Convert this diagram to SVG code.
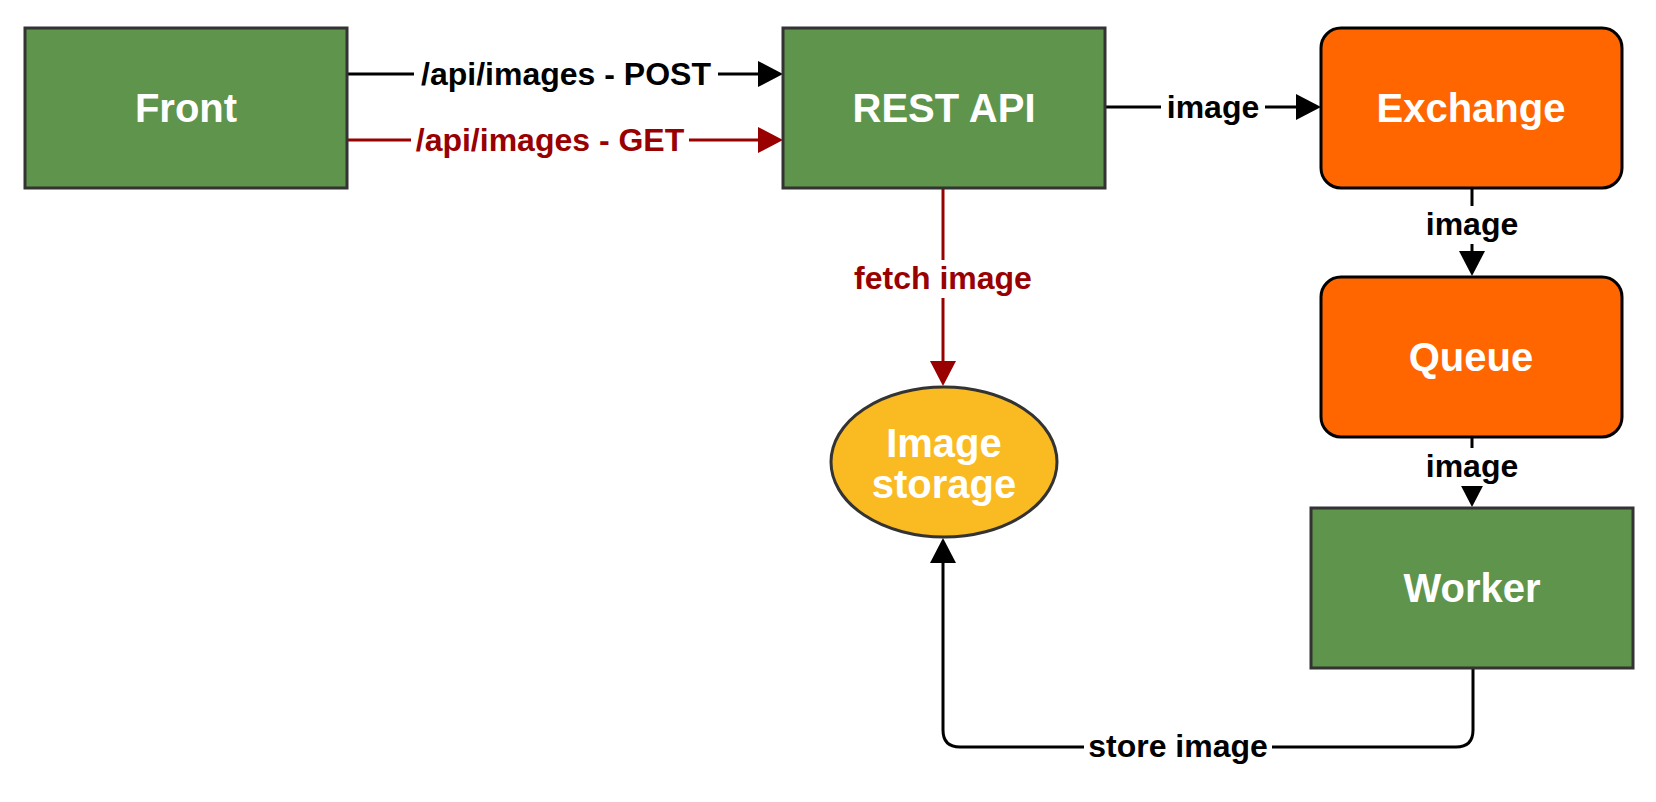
<svg xmlns="http://www.w3.org/2000/svg" width="1656" height="802" viewBox="0 0 1656 802">
<style>
.box{fill:#5E944B;stroke:#333333;stroke-width:3}
.rbox{fill:#FF6600;stroke:#000000;stroke-width:3}
.ell{fill:#F9BA22;stroke:#333333;stroke-width:3}
.nt{font-family:"Liberation Sans",Arial,sans-serif;font-weight:bold;font-size:40px;fill:#ffffff;text-anchor:middle}
.lt{font-family:"Liberation Sans",Arial,sans-serif;font-weight:bold;font-size:32px;text-anchor:middle}
.blk{fill:#000000}
.red{fill:#990000}
.ln{fill:none;stroke:#000000;stroke-width:3}
.lnr{fill:none;stroke:#990000;stroke-width:3}
.bg{fill:#ffffff}
</style>
<defs>
<marker id="ab" viewBox="0 0 25 26" refX="12" refY="13" markerWidth="25" markerHeight="26" markerUnits="userSpaceOnUse" orient="auto">
<path d="M0,0 L25,13 L0,26 Z" fill="#000000"/>
</marker>
<marker id="ar" viewBox="0 0 25 26" refX="12" refY="13" markerWidth="25" markerHeight="26" markerUnits="userSpaceOnUse" orient="auto">
<path d="M0,0 L25,13 L0,26 Z" fill="#990000"/>
</marker>
</defs>
<rect width="1656" height="802" fill="#ffffff"/>
<g id="connectors">
<path class="ln" d="M347,74 L770,74" marker-end="url(#ab)"/>
<path class="lnr" d="M347,140 L770,140" marker-end="url(#ar)"/>
<path class="ln" d="M1105,107 L1308,107" marker-end="url(#ab)"/>
<path class="ln" d="M1472,188 L1472,263" marker-end="url(#ab)"/>
<path class="ln" d="M1472,437 L1472,494" marker-end="url(#ab)"/>
<path class="lnr" d="M943,189 L943,373" marker-end="url(#ar)"/>
<path class="ln" d="M1473,668 L1473,730 Q1473,747 1456,747 L960,747 Q943,747 943,730 L943,551" marker-end="url(#ab)"/>
<rect class="bg" x="414" y="56" width="304" height="36"/>
<text class="lt blk" x="566" y="85">/api/images - POST</text>
<rect class="bg" x="411" y="122" width="278" height="36"/>
<text class="lt red" x="550" y="151">/api/images - GET</text>
<rect class="bg" x="1161" y="89" width="104" height="36"/>
<text class="lt blk" x="1213" y="118">image</text>
<rect class="bg" x="1420" y="206" width="104" height="38"/>
<text class="lt blk" x="1472" y="235">image</text>
<rect class="bg" x="1420" y="448" width="104" height="38"/>
<text class="lt blk" x="1472" y="477">image</text>
<rect class="bg" x="851" y="260" width="184" height="38"/>
<text class="lt red" x="943" y="289">fetch image</text>
<rect class="bg" x="1084" y="728" width="188" height="38"/>
<text class="lt blk" x="1178" y="757">store image</text>
</g>
<g id="front">
<rect class="box" x="25" y="28" width="322" height="160"/>
<text class="nt" x="186" y="122">Front</text>
</g>
<g id="rest-api">
<rect class="box" x="783" y="28" width="322" height="160"/>
<text class="nt" x="944" y="122">REST API</text>
</g>
<g id="exchange">
<rect class="rbox" x="1321" y="28" width="301" height="160" rx="20" ry="20"/>
<text class="nt" x="1471" y="122">Exchange</text>
</g>
<g id="queue">
<rect class="rbox" x="1321" y="277" width="301" height="160" rx="20" ry="20"/>
<text class="nt" x="1471" y="371">Queue</text>
</g>
<g id="worker">
<rect class="box" x="1311" y="508" width="322" height="160"/>
<text class="nt" x="1472" y="602">Worker</text>
</g>
<g id="image-storage">
<ellipse class="ell" cx="944" cy="462" rx="113" ry="75"/>
<text class="nt" x="944" y="457">Image</text>
<text class="nt" x="944" y="498">storage</text>
</g>
</svg>
